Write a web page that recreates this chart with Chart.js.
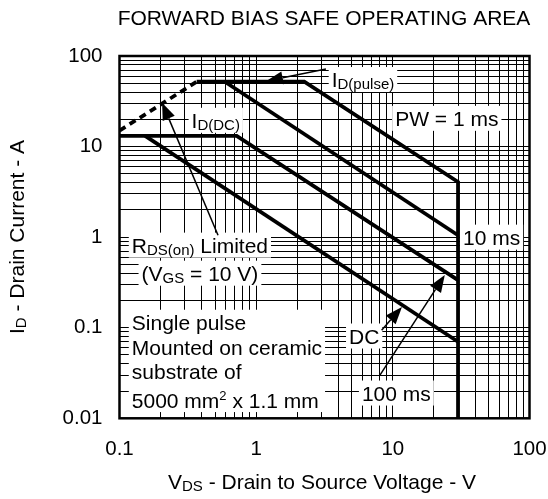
<!DOCTYPE html>
<html>
<head>
<meta charset="utf-8">
<script src="https://cdn.jsdelivr.net/npm/chart.js@4.4.1/dist/chart.umd.min.js"></script>
<style>
  html, body { margin: 0; padding: 0; background: #fff; }
  #wrap { width: 548px; height: 499px; }
</style>
</head>
<body>
<div id="wrap"><canvas id="soa" width="548" height="499"></canvas></div>
<script>
// grid / tick positions (log decades with 1..9 subdivisions)
const xGrid = [0.1, 0.2, 0.3, 0.4, 0.5, 0.6, 0.7, 0.8, 0.9,
  1, 2, 3, 4, 5, 6, 7, 8, 9,
  10, 20, 30, 40, 50, 60, 70, 80, 90, 100];
const yGrid = [0.01, 0.02, 0.03, 0.04, 0.05, 0.06, 0.07, 0.08, 0.09,
  0.1, 0.2, 0.3, 0.4, 0.5, 0.6, 0.7, 0.8, 0.9,
  1, 2, 3, 4, 5, 6, 7, 8, 9,
  10, 20, 30, 40, 50, 60, 70, 80, 90, 100];
const xTickLabels = ['0.1', '1', '10', '100'];
const yTickLabels = ['0.01', '0.1', '1', '10', '100'];

// SOA boundaries, VDS (V) / ID (A)
const rdsLimitV = [0.1, 0.367];
const rdsLimitI = [15, 52];
const pw1msV = [0.367, 2.25, 30, 30];
const pw1msI = [52, 52, 4.07, 0.01];
const pw10msV = [0.59, 30];
const pw10msI = [52, 1.05];
const pw100msV = [0.1, 0.72, 30];
const pw100msI = [13.1, 13.1, 0.336];
const dcV = [0.154, 30];
const dcI = [13.1, 0.07];

// annotations (left edge V, middle I)
const notes = [
  { text: 'I_{D(pulse)}', v: 3.57, i: 55 },
  { text: 'I_{D(DC)}', v: 0.337, i: 19.5 },
  { text: 'PW = 1 ms', v: 10.4, i: 20.5 },
  { text: '10 ms', v: 32.6, i: 1.0 },
  { text: 'R_{DS(on)} Limited', v: 0.123, i: 0.816 },
  { text: '(V_{GS} = 10 V)', v: 0.145, i: 0.40 },
  { text: 'DC', v: 4.78, i: 0.081 },
  { text: '100 ms', v: 5.94, i: 0.019 }
];
const conditionLines = ['Single pulse', 'Mounted on ceramic', 'substrate of', '5000 mm^{2} x 1.1 mm'];
const conditionV = 0.123;
const conditionI = [0.1135, 0.0612, 0.0327, 0.0159];

const arrows = [
  { from: [3.24, 72], to: [1.18, 52.6] },
  { from: [0.526, 1.05], to: [0.205, 30.5] },
  { from: [8.28, 0.094], to: [11.66, 0.169] },
  { from: [8.05, 0.030], to: [24.0, 0.381] }
];

const FAMILY = "'Liberation Sans', Arial, sans-serif";
const NOTE_SIZE = 21;
const fontOf = (size) => size + 'px ' + FAMILY;

const toPoints = (xs, ys) => xs.map((x, k) => ({ x: x, y: ys[k] }));

// "I_{D}" -> subscript, "^{2}" -> superscript
function parseRich(str, size) {
  const parts = [];
  const re = /(_|\^)\{([^}]*)\}/g;
  let last = 0, m;
  while ((m = re.exec(str)) !== null) {
    if (m.index > last) parts.push({ text: str.slice(last, m.index), size: size, dy: 0 });
    if (m[1] === '_') parts.push({ text: m[2], size: Math.round(size * 0.7), dy: 2 });
    else parts.push({ text: m[2], size: Math.round(size * 0.6), dy: -8 });
    last = re.lastIndex;
  }
  if (last < str.length) parts.push({ text: str.slice(last), size: size, dy: 0 });
  return parts;
}
function richWidth(ctx, parts) {
  let w = 0;
  for (const p of parts) { ctx.font = fontOf(p.size); w += ctx.measureText(p.text).width; }
  return w;
}
function drawRich(ctx, parts, x, baseline) {
  let cx = x;
  for (const p of parts) {
    ctx.font = fontOf(p.size);
    ctx.fillText(p.text, cx, baseline + p.dy);
    cx += ctx.measureText(p.text).width;
  }
}

const labelFor = (list) => (value) => {
  const hit = list.find(s => Math.abs(Math.log10(parseFloat(s)) - Math.log10(value)) < 1e-6);
  return hit || '';
};

const soaNotes = {
  id: 'soaNotes',
  beforeDatasetsDraw(chart) {
    const { ctx, chartArea, scales } = chart;
    ctx.save();
    ctx.beginPath();
    ctx.rect(chartArea.left, chartArea.top, chartArea.right - chartArea.left, chartArea.bottom - chartArea.top);
    ctx.clip();
    ctx.fillStyle = '#fff';
    for (const n of notes) {
      const x = scales.x.getPixelForValue(n.v);
      const y = scales.y.getPixelForValue(n.i);
      const w = richWidth(ctx, parseRich(n.text, NOTE_SIZE));
      ctx.fillRect(x - 3, y - 12.5, w + 6, 25);
    }
    const bx = scales.x.getPixelForValue(conditionV);
    const top = scales.y.getPixelForValue(conditionI[0]) - 13;
    const bottom = scales.y.getPixelForValue(conditionI[conditionI.length - 1]) + 12;
    const bw = Math.max(...conditionLines.map(t => richWidth(ctx, parseRich(t, NOTE_SIZE))));
    ctx.fillRect(bx - 3, top, bw + 6, bottom - top);
    ctx.restore();
  },
  afterDatasetsDraw(chart) {
    const { ctx, chartArea, scales } = chart;
    ctx.save();
    // frame
    ctx.strokeStyle = '#000';
    ctx.lineWidth = 2.5;
    ctx.strokeRect(chartArea.left, chartArea.top, chartArea.right - chartArea.left, chartArea.bottom - chartArea.top);

    ctx.fillStyle = '#000';
    ctx.textAlign = 'left';
    ctx.textBaseline = 'alphabetic';
    for (const n of notes) {
      const x = scales.x.getPixelForValue(n.v);
      const y = scales.y.getPixelForValue(n.i);
      drawRich(ctx, parseRich(n.text, NOTE_SIZE), x, y + 7.5);
    }
    conditionLines.forEach((t, k) => {
      drawRich(ctx, parseRich(t, NOTE_SIZE), scales.x.getPixelForValue(conditionV), scales.y.getPixelForValue(conditionI[k]) + 7.5);
    });

    // arrows
    ctx.lineWidth = 1.5;
    for (const a of arrows) {
      const x0 = scales.x.getPixelForValue(a.from[0]), y0 = scales.y.getPixelForValue(a.from[1]);
      const x1 = scales.x.getPixelForValue(a.to[0]), y1 = scales.y.getPixelForValue(a.to[1]);
      const ang = Math.atan2(y1 - y0, x1 - x0);
      const len = 17, half = 6.5;
      const bx = x1 - len * Math.cos(ang), by = y1 - len * Math.sin(ang);
      ctx.beginPath();
      ctx.moveTo(x0, y0);
      ctx.lineTo(bx, by);
      ctx.stroke();
      ctx.beginPath();
      ctx.moveTo(x1, y1);
      ctx.lineTo(bx + half * Math.sin(ang), by - half * Math.cos(ang));
      ctx.lineTo(bx - half * Math.sin(ang), by + half * Math.cos(ang));
      ctx.closePath();
      ctx.fill();
    }

    // titles
    ctx.font = fontOf(21);
    ctx.textAlign = 'center';
    ctx.fillText('FORWARD BIAS SAFE OPERATING AREA', 324, 25);
    ctx.textAlign = 'left';
    const xt = parseRich('V_{DS} - Drain to Source Voltage - V', 21);
    drawRich(ctx, xt, 322 - richWidth(ctx, xt) / 2, 489);
    const yt = parseRich('I_{D} - Drain Current - A', 21);
    ctx.translate(16, 237);
    ctx.rotate(-Math.PI / 2);
    drawRich(ctx, yt, -richWidth(ctx, yt) / 2, 7.5);
    ctx.restore();
  }
};

const lineStyle = {
  borderColor: '#000',
  borderWidth: 3.8,
  pointRadius: 0,
  fill: false,
  tension: 0,
  borderJoinStyle: 'miter',
  borderCapStyle: 'butt'
};

const noOverflow = (s) => { s.paddingLeft = 0; s.paddingRight = 0; s.paddingTop = 0; s.paddingBottom = 0; };

new Chart(document.getElementById('soa'), {
  type: 'line',
  data: {
    datasets: [
      Object.assign({ label: 'RDS(on) limit', data: toPoints(rdsLimitV, rdsLimitI), borderDash: [7, 5] }, lineStyle),
      Object.assign({ label: '1 ms', data: toPoints(pw1msV, pw1msI) }, lineStyle),
      Object.assign({ label: '10 ms', data: toPoints(pw10msV, pw10msI) }, lineStyle),
      Object.assign({ label: '100 ms', data: toPoints(pw100msV, pw100msI) }, lineStyle),
      Object.assign({ label: 'DC', data: toPoints(dcV, dcI) }, lineStyle)
    ]
  },
  options: {
    responsive: false,
    animation: false,
    devicePixelRatio: 1,
    layout: { padding: { top: 56, right: 18.5, left: 0, bottom: 0 } },
    plugins: { legend: { display: false }, tooltip: { enabled: false } },
    scales: {
      x: {
        type: 'logarithmic',
        min: 0.1,
        max: 100,
        afterBuildTicks: (s) => { s.ticks = xGrid.map(v => ({ value: v })); },
        afterFit: (s) => { s.height = 80.7; noOverflow(s); },
        border: { display: false },
        grid: { color: '#000', lineWidth: 1, drawTicks: false },
        ticks: {
          autoSkip: false, maxRotation: 0, padding: 19, color: '#000',
          font: { family: FAMILY, size: 20.5 },
          callback: labelFor(xTickLabels)
        }
      },
      y: {
        type: 'logarithmic',
        min: 0.01,
        max: 100,
        afterBuildTicks: (s) => { s.ticks = yGrid.map(v => ({ value: v })); },
        afterFit: (s) => { s.width = 119.5; noOverflow(s); },
        border: { display: false },
        grid: { color: '#000', lineWidth: 1, drawTicks: false },
        ticks: {
          autoSkip: false, padding: 17, color: '#000',
          font: { family: FAMILY, size: 20.5 },
          callback: labelFor(yTickLabels)
        }
      }
    }
  },
  plugins: [soaNotes]
});
</script>
</body>
</html>
